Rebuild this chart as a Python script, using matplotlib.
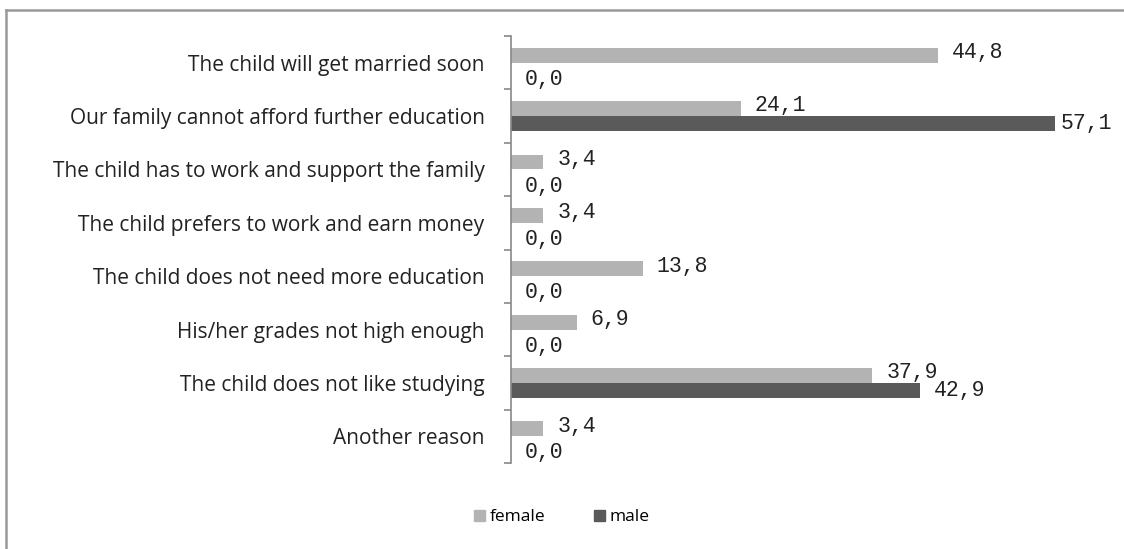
import matplotlib.pyplot as plt
from matplotlib.patches import Patch
from matplotlib.lines import Line2D
import numpy as np

# reasons children stop school, by sex (%)
categories = [
    'The child will get married soon',
    'Our family cannot afford further education',
    'The child has to work and support the family',
    'The child prefers to work and earn money',
    'The child does not need more education',
    'His/her grades not high enough',
    'The child does not like studying',
    'Another reason',
]
female = [44.8, 24.1, 3.4, 3.4, 13.8, 6.9, 37.9, 3.4]
male = [0.0, 57.1, 0.0, 0.0, 0.0, 0.0, 42.9, 0.0]

female_color = '#b3b3b3'
male_color = '#5a5a5a'

fig = plt.figure(figsize=(11.24, 5.49), dpi=100)
ax = fig.add_axes([0.4546, 0.1566, 0.5089, 0.7778])

y = np.arange(len(categories))
h = 0.28
ax.barh(y - h / 2, female, height=h, color=female_color)
ax.barh(y + h / 2, male, height=h, color=male_color)

ax.set_xlim(0, 60)
ax.set_ylim(len(categories) - 0.5, -0.5)

# value labels in a typewriter-like font
for i, (f, m) in enumerate(zip(female, male)):
    m_off = 0.17 if m == 0 else 0.0
    for val, yy in ((f, i - h / 2 - 0.05), (m, i + h / 2 + m_off)):
        gap = 5 if val > 50 else 14
        ax.annotate(f'{val:.1f}'.replace('.', ','), (val, yy),
                    xytext=(gap * 0.72, 0), textcoords='offset points',
                    va='center', ha='left', family='Liberation Mono',
                    fontsize=15.5, color='#222222', annotation_clip=False)

ax.set_yticks(y)
ax.set_yticklabels(categories, family='Open Sans', fontsize=15, color='#222222')
ax.tick_params(axis='y', which='major', length=0, pad=19)
ax.set_yticks(np.arange(len(categories) + 1) - 0.5, minor=True)
ax.tick_params(axis='y', which='minor', length=5, color='#888888', width=1.2)
ax.set_xticks([])

for s in ['top', 'right', 'bottom']:
    ax.spines[s].set_visible(False)
ax.spines['left'].set_color('#888888')
ax.spines['left'].set_linewidth(1.2)

handles = [Patch(color=female_color, label='female'), Patch(color=male_color, label='male')]
fig.legend(handles=handles, loc='center', bbox_to_anchor=(0.5, 0.058), ncol=2,
           frameon=False, prop={'family': 'Open Sans', 'size': 12.5}, handlelength=0.6,
           handleheight=0.6, handletextpad=0.3, columnspacing=2.8)

# outer chart frame (only top and left edges are visible)
fig.add_artist(Line2D([6 / 1124, 6 / 1124], [0, 1 - 10 / 549], color='#999999', lw=1.8))
fig.add_artist(Line2D([6 / 1124, 1], [1 - 10 / 549, 1 - 10 / 549], color='#999999', lw=1.8))

fig.savefig('out.png', dpi=100)
